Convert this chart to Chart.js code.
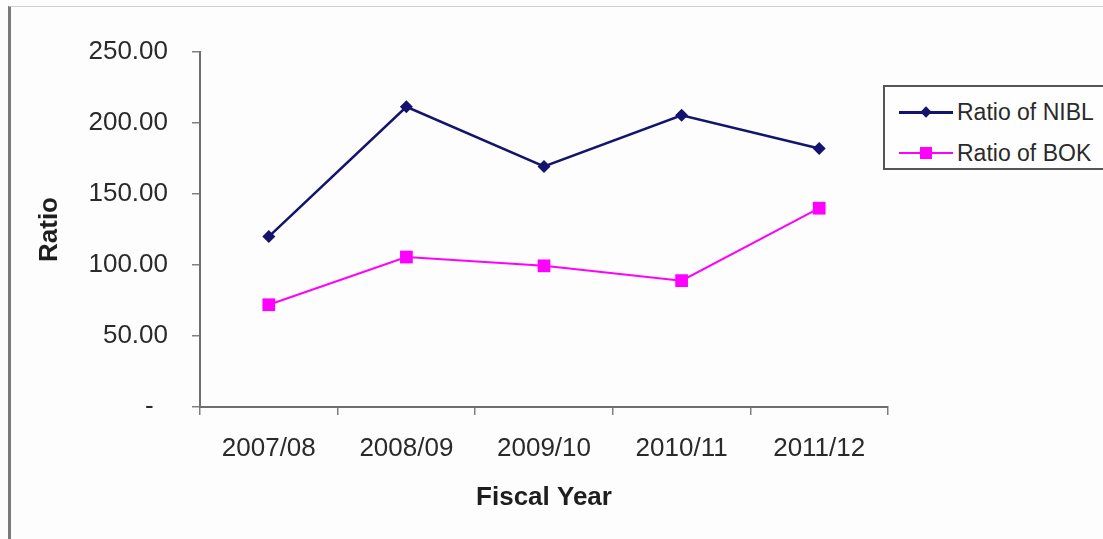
<!DOCTYPE html>
<html>
<head>
<meta charset="utf-8">
<script src="https://cdn.jsdelivr.net/npm/chart.js@4"></script>
<style>
  html, body { margin: 0; padding: 0; background: #fdfdfd; }
  #wrap { position: relative; width: 1103px; height: 539px; overflow: hidden; background: #fdfdfd; }
  #frame { position: absolute; left: 8px; top: 6px; width: 1200px; height: 600px;
           border-left: 3px solid #7a7a7a; border-top: 1px solid #cfcfcf; }
  #c { position: absolute; left: 0; top: 0; }
  #legend { position: absolute; left: 883px; top: 85px; width: 260px; height: 85px;
            border: 2px solid #555; background: #fefefe; box-sizing: border-box; }
  .row { position: absolute; left: 0; height: 30px; width: 100%; }
  .sample { position: absolute; left: 14px; top: 14px; width: 54px; }
  .mk { position: absolute; }
  .lbl { position: absolute; left: 72px; top: 0; font: 23px "Liberation Sans", Arial, sans-serif;
         color: #2a2a2a; line-height: 30px; white-space: nowrap; }
</style>
</head>
<body>
<div id="wrap">
  <div id="frame"></div>
  <canvas id="c" width="1103" height="539"></canvas>
  <div id="legend"></div>
</div>
<script>
const categories = ['2007/08', '2008/09', '2009/10', '2010/11', '2011/12'];
const seriesNames = ['Ratio of NIBL', 'Ratio of BOK'];
const niblValues = [120.0, 211.4, 169.4, 205.4, 182.0];
const bokValues = [72.0, 105.6, 99.4, 89.0, 140.0];
const yTickValues = [0, 50, 100, 150, 200, 250];

const NIBL_COLOR = '#14146e';
const BOK_COLOR = '#ff00ff';
const FONT = '"Liberation Sans", Arial, sans-serif';

const chart = new Chart(document.getElementById('c'), {
  type: 'line',
  data: {
    labels: categories,
    datasets: [
      {
        label: seriesNames[0], data: niblValues,
        borderColor: NIBL_COLOR, backgroundColor: NIBL_COLOR,
        borderWidth: 2.5, pointStyle: 'rectRot', pointRadius: 6.5,
        pointBorderWidth: 0, tension: 0
      },
      {
        label: seriesNames[1], data: bokValues,
        borderColor: BOK_COLOR, backgroundColor: BOK_COLOR,
        borderWidth: 2, pointStyle: 'rect', pointRadius: 9,
        pointBorderWidth: 0, tension: 0
      }
    ]
  },
  options: {
    responsive: false,
    animation: false,
    events: [],
    layout: { padding: { top: 52, right: 215, bottom: 0, left: 0 } },
    plugins: { legend: { display: false }, tooltip: { enabled: false } },
    scales: {
      x: {
        offset: true,
        afterFit: s => { s.height = 132; },
        grid: { offset: true, drawOnChartArea: false, tickLength: 8, color: '#808080', lineWidth: 1.5 },
        border: { display: true, color: '#6e6e6e', width: 2 },
        ticks: { color: '#2a2a2a', padding: 18, font: { family: FONT, size: 26 }, maxRotation: 0 },
        title: { display: true, text: 'Fiscal Year', color: '#1e1e1e',
                 font: { family: FONT, size: 26, weight: 'bold' }, padding: { top: 0, bottom: 26 } }
      },
      y: {
        min: 0, max: 250,
        afterFit: s => { s.width = 200; },
        afterBuildTicks: s => { s.ticks = yTickValues.map(v => ({ value: v })); },
        grid: { drawOnChartArea: false, tickLength: 8, color: '#808080', lineWidth: 1.5 },
        border: { display: true, color: '#6e6e6e', width: 2 },
        ticks: {
          color: '#2a2a2a', padding: 24, font: { family: FONT, size: 26 },
          callback: v => v === 0 ? '-  ' : Number(v).toFixed(2)
        },
        title: { display: true, text: 'Ratio', color: '#1e1e1e',
                 font: { family: FONT, size: 26, weight: 'bold' }, padding: { top: 34, bottom: 0 } }
      }
    }
  }
});

// HTML legend built from the chart's datasets
const legend = document.getElementById('legend');
chart.data.datasets.forEach((ds, i) => {
  const row = document.createElement('div');
  row.className = 'row';
  row.style.top = (10 + i * 41) + 'px';
  const sample = document.createElement('div');
  sample.className = 'sample';
  sample.style.height = ds.borderWidth + 'px';
  sample.style.background = ds.borderColor;
  const mk = document.createElement('div');
  mk.className = 'mk';
  if (ds.pointStyle === 'rectRot') {
    mk.style.width = '8px'; mk.style.height = '8px';
    mk.style.left = '23px'; mk.style.top = (ds.borderWidth / 2 - 4) + 'px';
    mk.style.transform = 'rotate(45deg)';
  } else {
    mk.style.width = '12px'; mk.style.height = '12px';
    mk.style.left = '21px'; mk.style.top = (ds.borderWidth / 2 - 6) + 'px';
  }
  mk.style.background = ds.backgroundColor;
  sample.appendChild(mk);
  const lbl = document.createElement('div');
  lbl.className = 'lbl';
  lbl.textContent = ds.label;
  row.appendChild(sample);
  row.appendChild(lbl);
  legend.appendChild(row);
});
</script>
</body>
</html>
